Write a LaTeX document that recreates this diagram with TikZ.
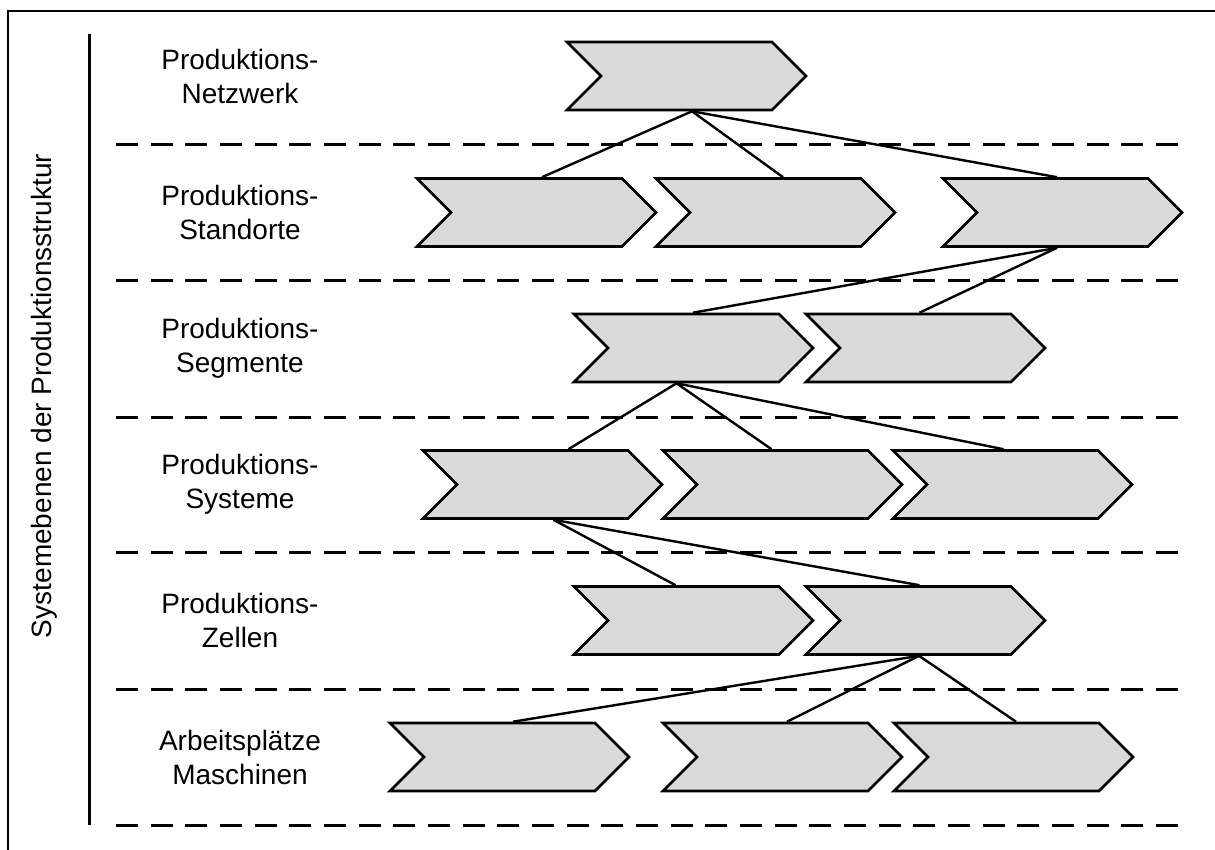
\documentclass[tikz,border=0pt]{standalone}
\usepackage{fontspec}
\setmainfont{Liberation Sans}
\usetikzlibrary{shapes.symbols}

\begin{document}
\begin{tikzpicture}[x=1pt,y=-1pt,
    chevron/.style={signal, signal to=east, signal from=west, draw, line width=2.6pt,
      fill=black!15, minimum width=239pt, minimum height=68pt, inner sep=0pt},
    level/.style={align=center, font=\fontsize{28}{34}\selectfont},
    link/.style={line width=2.4pt},
    sep/.style={line width=3pt, dash pattern=on 22pt off 12.67pt}]
    \useasboundingbox (0,0) rectangle (1215,850);

    % frame and axis
    \draw[line width=2pt] (1225,11) -- (8,11) -- (8,860);
    \draw[line width=3pt] (89,34) -- (89,825);
    \node[level, rotate=90] (title) at (44,396) {Systemebenen der Produktionsstruktur};

    % level separators
    \draw[sep] (116,145) -- (1180,145);
    \draw[sep] (116,281) -- (1180,281);
    \draw[sep] (116,417) -- (1180,417);
    \draw[sep] (116,552) -- (1180,552);
    \draw[sep] (116,689) -- (1180,689);
    \draw[sep] (116,825) -- (1180,825);

    % level names
    \node[level] (lnw) at (240,76) {Produktions-\\Netzwerk};
    \node[level] (lst) at (240,212) {Produktions-\\Standorte};
    \node[level] (lse) at (240,348) {Produktions-\\Segmente};
    \node[level] (lsy) at (240,484) {Produktions-\\Systeme};
    \node[level] (lze) at (240,620) {Produktions-\\Zellen};
    \node[level] (lap) at (240,757) {Arbeitspl\"atze\\Maschinen};

    % chevrons
    \node[chevron] (nw) at (686.5,76) {};

    \node[chevron] (st1) at (536.5,212.5) {};
    \node[chevron] (st2) at (775.5,212.5) {};
    \node[chevron] (st3) at (1062.5,212.5) {};

    \node[chevron] (se1) at (693.5,348) {};
    \node[chevron] (se2) at (925.5,348) {};

    \node[chevron] (sy1) at (542.5,484.5) {};
    \node[chevron] (sy2) at (782.5,484.5) {};
    \node[chevron] (sy3) at (1012.5,484.5) {};

    \node[chevron] (ze1) at (693.5,620.5) {};
    \node[chevron] (ze2) at (925.5,620.5) {};

    \node[chevron] (ap1) at (509.5,757) {};
    \node[chevron] (ap2) at (782.5,757) {};
    \node[chevron] (ap3) at (1013.5,757) {};

    % links
    \draw[link] ([xshift=5.5pt]nw.south) -- ([xshift=5.5pt]st1.north);
    \draw[link] ([xshift=5.5pt]nw.south) -- ([xshift=7.5pt]st2.north);
    \draw[link] ([xshift=5.5pt]nw.south) -- ([xshift=-5.5pt]st3.north);

    \draw[link] ([xshift=-5.5pt]st3.south) -- ([xshift=-0.5pt]se1.north);
    \draw[link] ([xshift=-5.5pt]st3.south) -- ([xshift=-6pt]se2.north);

    \draw[link] ([xshift=-17pt]se1.south) -- ([xshift=26pt]sy1.north);
    \draw[link] ([xshift=-17pt]se1.south) -- ([xshift=-11pt]sy2.north);
    \draw[link] ([xshift=-17pt]se1.south) -- ([xshift=-9pt]sy3.north);

    \draw[link] ([xshift=11pt]sy1.south) -- ([xshift=-18pt]ze1.north);
    \draw[link] ([xshift=11pt]sy1.south) -- ([xshift=-6pt]ze2.north);

    \draw[link] ([xshift=-6.5pt]ze2.south) -- ([xshift=3.5pt]ap1.north);
    \draw[link] ([xshift=-6.5pt]ze2.south) -- ([xshift=4.5pt]ap2.north);
    \draw[link] ([xshift=-6.5pt]ze2.south) -- ([xshift=2.5pt]ap3.north);
\end{tikzpicture}
\end{document}
